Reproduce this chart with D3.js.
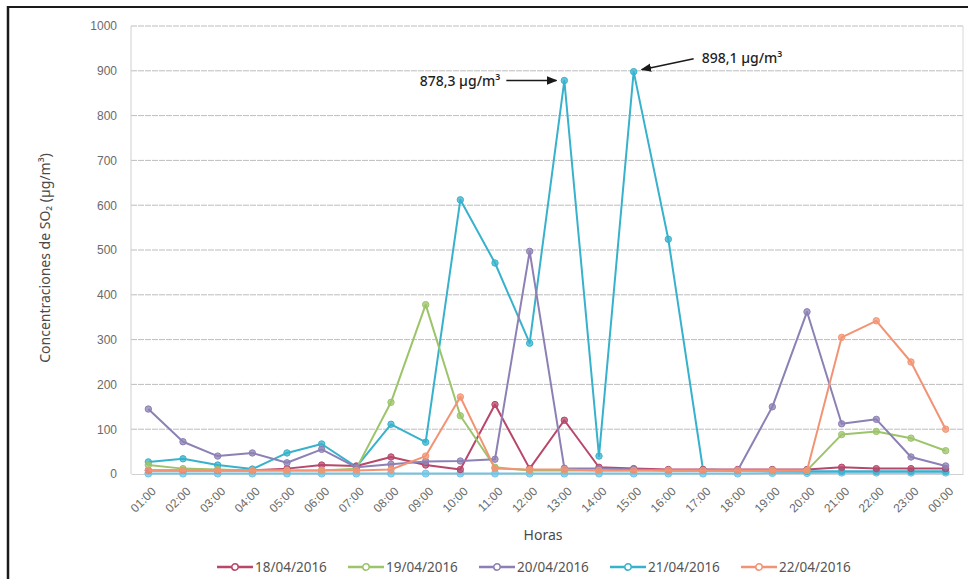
<!DOCTYPE html>
<html>
<head>
<meta charset="utf-8">
<script src="https://cdn.jsdelivr.net/npm/d3@7"></script>
<style>
  body { margin: 0; background: #fff; }
  svg { display: block; font-family: "Noto Sans", "Open Sans", sans-serif; }
</style>
</head>
<body>
<svg id="chart" width="968" height="579"></svg>
<script>
// --- data ---
const horas = ["01:00","02:00","03:00","04:00","05:00","06:00","07:00","08:00","09:00","10:00","11:00","12:00",
               "13:00","14:00","15:00","16:00","17:00","18:00","19:00","20:00","21:00","22:00","23:00","00:00"];
const yTicks = [0,100,200,300,400,500,600,700,800,900,1000];

const d18 = [8,8,8,8,12,20,18,38,20,10,155,12,120,15,12,10,10,10,10,10,15,12,12,12];
const d19 = [20,12,10,8,8,8,12,160,378,130,15,8,8,8,8,8,8,8,8,8,88,95,80,52];
const d20 = [145,72,40,47,25,55,15,22,28,29,33,497,13,12,10,8,8,8,150,362,112,122,38,18];
const d21 = [27,34,20,11,47,67,16,111,71,612,471,292,878.3,40,898.1,524,10,8,7,6,6,6,6,6];
const d22 = [8,8,8,8,8,8,8,10,40,172,12,10,10,8,8,8,8,8,8,8,305,342,250,100];
// low series drawn near zero (no legend entry in the original)
const dBase = [1,1,1,1,1,1,1,1,1,1,1,1,1,1,1,1,1,1,2,2,3,3,3,3];

const seriesNames = ["18/04/2016","19/04/2016","20/04/2016","21/04/2016","22/04/2016"];
const seriesColors = ["#b8476a","#9cc46a","#8c80b4","#38b2cc","#f29474"];

const annotations = [
  { hora: "13:00", value: 878.3, label: "878,3 µg/m³" },
  { hora: "15:00", value: 898.1, label: "898,1 µg/m³" }
];

// --- setup ---
const svg = d3.select("#chart");
const plotLeft = 131, plotRight = 963, plotTop = 26, plotBottom = 474;

const x = d3.scalePoint().domain(horas).range([plotLeft, plotRight]).padding(0.5);
const y = d3.scaleLinear().domain([0, 1000]).range([plotBottom, plotTop]);

// frame of the scanned page
svg.append("line").attr("x1", 8).attr("x2", 8).attr("y1", 6).attr("y2", 579)
  .attr("stroke", "#1a1a1a").attr("stroke-width", 2.5);
svg.append("line").attr("x1", 7).attr("x2", 968).attr("y1", 7).attr("y2", 7)
  .attr("stroke", "#1a1a1a").attr("stroke-width", 2);

// gridlines
svg.append("g")
  .selectAll("line")
  .data(yTicks.filter(d => d > 0))
  .join("line")
  .attr("x1", plotLeft).attr("x2", plotRight)
  .attr("y1", d => y(d)).attr("y2", d => y(d))
  .attr("stroke", "#bdbdbd")
  .attr("stroke-width", 1)
  .attr("stroke-dasharray", "6,1");

// plot border lines
svg.append("line").attr("x1", plotLeft).attr("x2", plotLeft).attr("y1", plotTop).attr("y2", plotBottom)
  .attr("stroke", "#cfcfcf");
svg.append("line").attr("x1", plotRight).attr("x2", plotRight).attr("y1", plotTop).attr("y2", plotBottom)
  .attr("stroke", "#d8d8d8");

// --- Y axis ---
const yAxis = svg.append("g")
  .attr("transform", `translate(${plotLeft},0)`)
  .call(d3.axisLeft(y).tickValues(yTicks).tickFormat(d3.format("d")).tickSize(0).tickPadding(14));
yAxis.select(".domain").remove();
yAxis.selectAll("text")
  .attr("fill", "#6a6a6a")
  .style("font-size", "12px");

// --- X axis ---
const xAxis = svg.append("g")
  .attr("transform", `translate(0,${plotBottom})`)
  .call(d3.axisBottom(x).tickSize(0).tickPadding(0));
xAxis.select(".domain").attr("stroke", "#d0d0d0");
xAxis.selectAll("text")
  .attr("fill", "#6a6a6a")
  .style("font-size", "12px")
  .attr("text-anchor", "end")
  .attr("dy", "0.35em")
  .attr("transform", "translate(5,15) rotate(-45)");

// --- lines ---
const line = d3.line()
  .x((d, i) => x(horas[i]))
  .y(d => y(d));

function drawSeries(data, color, r) {
  const g = svg.append("g");
  g.append("path")
    .datum(data)
    .attr("fill", "none")
    .attr("stroke", color)
    .attr("stroke-width", 2)
    .attr("stroke-linejoin", "round")
    .attr("d", line);
  g.selectAll("circle")
    .data(data)
    .join("circle")
    .attr("cx", (d, i) => x(horas[i]))
    .attr("cy", d => y(d))
    .attr("r", r)
    .attr("fill", color)
    .attr("fill-opacity", 0.75)
    .attr("stroke", color)
    .attr("stroke-width", 1);
}

drawSeries(dBase, "#72c4e6", 3.5);
const allSeries = [d18, d19, d20, d21, d22];
// draw order as in the original: 21/04 under the others near zero
[3, 0, 1, 2, 4].forEach(i => drawSeries(allSeries[i], seriesColors[i], 3.2));

// --- annotations ---
const ann0 = annotations[0], ann1 = annotations[1];
svg.append("defs").append("marker")
  .attr("id", "arrow")
  .attr("viewBox", "0 0 10 10")
  .attr("refX", 9).attr("refY", 5)
  .attr("markerWidth", 7).attr("markerHeight", 7)
  .attr("orient", "auto")
  .append("path")
  .attr("d", "M0,1 L10,5 L0,9 Z")
  .attr("fill", "#1a1a1a");

svg.append("line")
  .attr("x1", x(ann0.hora) - 58).attr("y1", y(ann0.value))
  .attr("x2", x(ann0.hora) - 8).attr("y2", y(ann0.value))
  .attr("stroke", "#1a1a1a").attr("stroke-width", 1.5)
  .attr("marker-end", "url(#arrow)");
svg.append("text")
  .attr("x", x(ann0.hora) - 64).attr("y", y(ann0.value) + 5)
  .attr("text-anchor", "end")
  .attr("fill", "#1f1f1f")
  .style("font-size", "14px")
  .style("font-weight", 500)
  .text(ann0.label);

svg.append("line")
  .attr("x1", x(ann1.hora) + 60).attr("y1", y(ann1.value) - 13)
  .attr("x2", x(ann1.hora) + 8).attr("y2", y(ann1.value) - 2)
  .attr("stroke", "#1a1a1a").attr("stroke-width", 1.5)
  .attr("marker-end", "url(#arrow)");
svg.append("text")
  .attr("x", x(ann1.hora) + 68).attr("y", y(ann1.value) - 9)
  .attr("fill", "#1f1f1f")
  .style("font-size", "14px")
  .style("font-weight", 500)
  .text(ann1.label);

// --- axis titles ---
svg.append("text")
  .attr("transform", "translate(50,258) rotate(-90)")
  .attr("text-anchor", "middle")
  .attr("fill", "#4a4a4a")
  .style("font-size", "14px")
  .text("Concentraciones de SO₂ (µg/m³)");

svg.append("text")
  .attr("x", 543).attr("y", 540)
  .attr("text-anchor", "middle")
  .attr("fill", "#4a4a4a")
  .style("font-size", "14px")
  .text("Horas");

// --- legend ---
const legend = svg.append("g").attr("transform", "translate(217,567)");
seriesNames.forEach((name, i) => {
  const g = legend.append("g").attr("transform", `translate(${i * 131},0)`);
  g.append("line").attr("x1", 0).attr("x2", 36).attr("y1", 0).attr("y2", 0)
    .attr("stroke", seriesColors[i]).attr("stroke-width", 2.5);
  g.append("circle").attr("cx", 18).attr("cy", 0).attr("r", 3.2)
    .attr("fill", "#fff").attr("stroke", seriesColors[i]).attr("stroke-width", 1.5);
  g.append("text")
    .attr("x", 38).attr("y", 0).attr("dy", "0.35em")
    .attr("fill", "#555")
    .style("font-size", "13.5px")
    .text(name);
});
</script>
</body>
</html>
